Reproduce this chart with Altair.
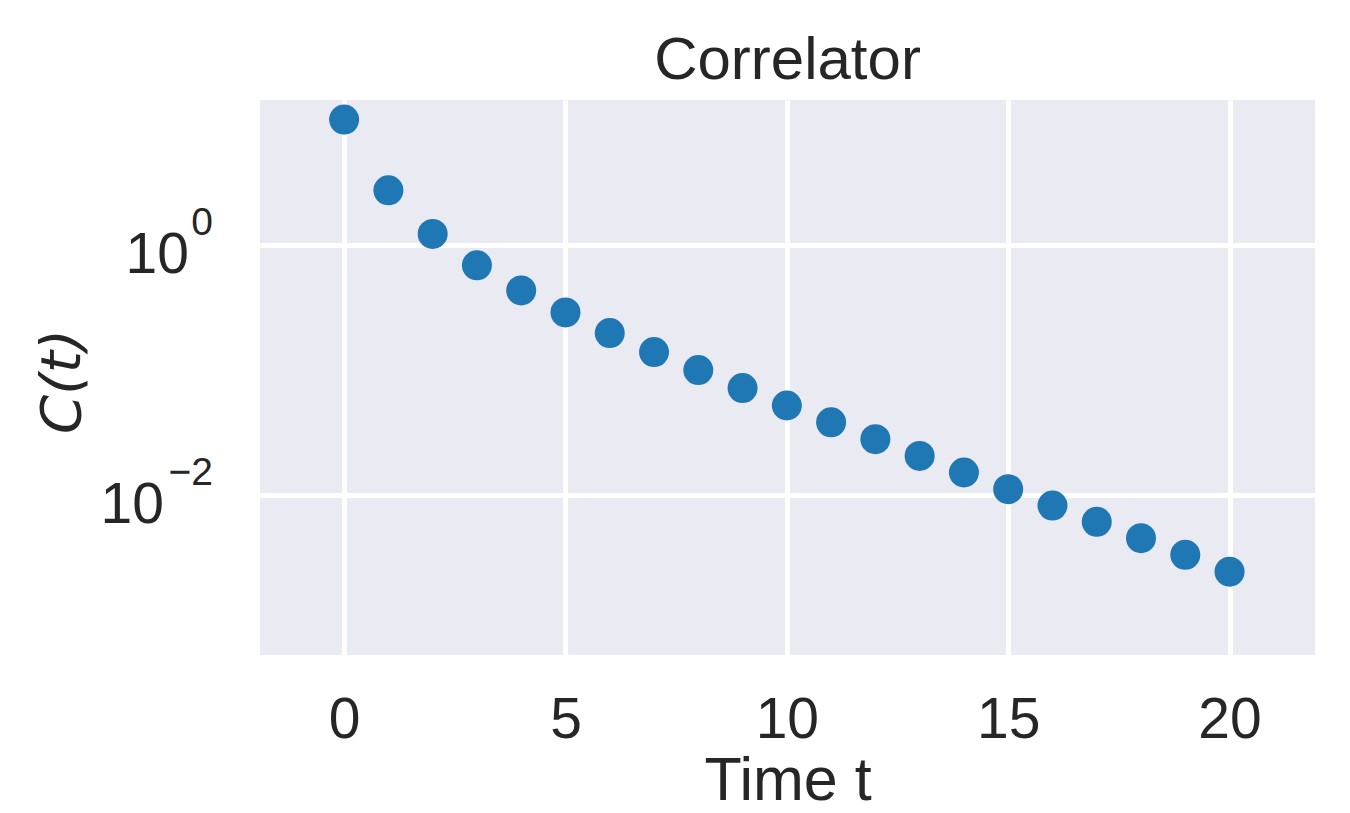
import altair as alt
import pandas as pd

t_values = list(range(21))
c_values = [10.08, 2.736, 1.225, 0.6866, 0.4328, 0.2885, 0.1973, 0.139, 0.0997,
            0.0716, 0.0519, 0.0381, 0.0279, 0.0205, 0.0151, 0.0111, 0.00821,
            0.00608, 0.0045, 0.00331, 0.00243]
x_ticks = [0, 5, 10, 15, 20]
y_ticks = [1, 0.01]
y_exponents = ["0", "\u22122"]

df = pd.DataFrame({"t": t_values, "C": c_values})
ticks_df = pd.DataFrame({"C": y_ticks, "exp": y_exponents})

FONT = "Liberation Sans"
TXT = "#262626"
ysc = alt.Scale(type="log", domain=[5.23e-4, 14.45], nice=False)

points = alt.Chart(df).mark_circle(size=900, opacity=1, color="#1f77b4").encode(
    x=alt.X("t:Q", scale=alt.Scale(domain=[-1.9, 21.93], nice=False, zero=False),
            axis=alt.Axis(values=x_ticks, title="Time t", labelFontSize=57,
                          titleFontSize=61, labelPadding=37, titlePadding=3,
                          tickSize=0, domain=False, labelFlush=False)),
    y=alt.Y("C:Q", scale=ysc,
            axis=alt.Axis(values=y_ticks, title="C(t)", titleFontStyle="italic",
                          titleFont="DejaVu Sans", titleFontSize=56,
                          labels=False, tickSize=0, domain=False,
                          titleAngle=-90, titleBaseline="middle", titleAlign="center",
                          titleX=-198, titleY=281)),
)

layers = [points]
# tick label "10^e" built from a base text and a raised exponent
base_dx = {1: -25, 0.01: -50}
for v, e in zip(y_ticks, y_exponents):
    sub = alt.Chart(ticks_df).transform_filter(alt.datum.C == v)
    layers.append(sub.mark_text(text="10", align="right", baseline="alphabetic",
                                dy=28.5, dx=base_dx[v], fontSize=57, font=FONT,
                                color=TXT).encode(
        x=alt.value(-46), y=alt.Y("C:Q", scale=ysc)))
    layers.append(sub.mark_text(align="right", baseline="alphabetic", dy=-9.5,
                                fontSize=39, font=FONT, color=TXT).encode(
        x=alt.value(-47), y=alt.Y("C:Q", scale=ysc), text="exp:N"))

chart = alt.layer(*layers).properties(
    width=1055, height=555,
    title=alt.TitleParams("Correlator", fontSize=60, font=FONT, color=TXT,
                          fontWeight="normal", anchor="middle", offset=8),
    autosize=alt.AutoSizeParams(type="none"),
    padding={"left": 260, "top": 100, "right": 35, "bottom": 158},
    background="white",
).configure_view(
    fill="#EAEAF2", stroke=None
).configure_axis(
    gridColor="white", gridWidth=5, gridOpacity=1,
    labelFont=FONT, titleFont=FONT, labelColor=TXT, titleColor=TXT,
    titleFontWeight="normal"
)

chart.save("out.html", embed_options={"renderer": "svg", "actions": False})
